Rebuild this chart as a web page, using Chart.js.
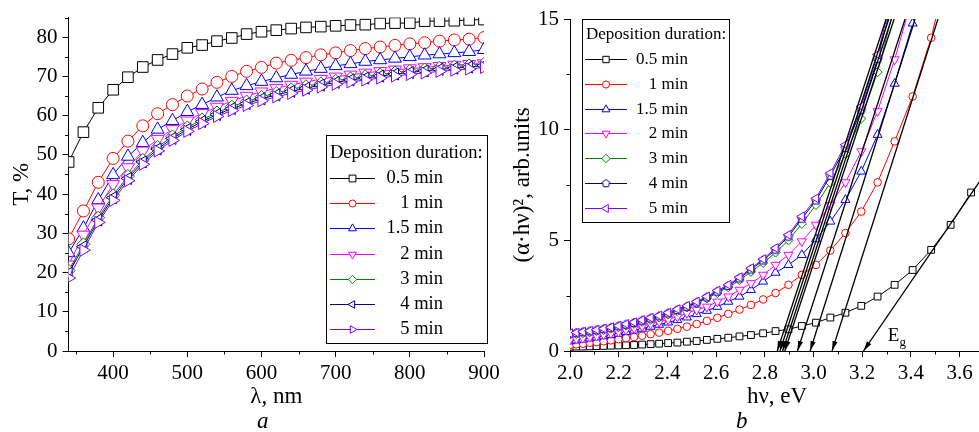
<!DOCTYPE html>
<html>
<head>
<meta charset="utf-8">
<script src="https://cdn.jsdelivr.net/npm/chart.js@4.4.1/dist/chart.umd.min.js"></script>
<style>
  html, body { margin: 0; padding: 0; background: #fff; overflow: hidden; }
  body { width: 979px; height: 432px; position: relative; }
  canvas { position: absolute; top: 0; }
  #chartA { left: 0; }
  #chartB { left: 490px; }
  .panel { position: absolute; top: 408px; font: italic 23px "Liberation Serif", serif; line-height: 26px; }
</style>
</head>
<body>
<canvas id="chartA" width="520" height="432"></canvas>
<canvas id="chartB" width="510" height="432"></canvas>
<div class="panel" style="left:257px">a</div>
<div class="panel" style="left:736px">b</div>
<script>
// * data *
const durations = ['0.5 min', '1 min', '1.5 min', '2 min', '3 min', '4 min', '5 min'];
const colors = ['#000000', '#ff0000', '#0000ff', '#ff00ff', '#008000', '#000080', '#8000ff'];

// panel a: transmittance, %
const wavelength = [340, 360, 380, 400, 420, 440, 460, 480, 500, 520, 540, 560, 580, 600, 620,
  640, 660, 680, 700, 720, 740, 760, 780, 800, 820, 840, 860, 880, 900];
const trans05 = [48.2, 55.8, 62.0, 66.6, 69.8, 72.4, 74.2, 75.7, 77.3, 78.0, 79.0, 79.8, 80.8, 81.4, 81.8,
  82.2, 82.5, 82.7, 82.9, 83.1, 83.2, 83.5, 83.6, 83.6, 84.1, 84.1, 84.2, 84.4, 84.5];
const trans1 = [28.6, 35.7, 43.0, 49.1, 53.5, 57.4, 60.5, 62.8, 65.0, 66.8, 68.5, 70.0, 71.3, 72.3, 73.4,
  74.1, 74.8, 75.5, 76.0, 76.6, 77.1, 77.5, 77.9, 78.3, 78.6, 79.0, 79.3, 79.5, 79.9];
const trans15 = [25.0, 31.3, 38.5, 44.9, 49.6, 53.1, 56.5, 58.7, 61.0, 62.8, 64.7, 66.4, 67.6, 68.7, 69.6,
  70.5, 71.3, 72.0, 72.7, 73.2, 73.8, 74.2, 74.6, 75.0, 75.4, 75.7, 76.0, 76.3, 76.8];
const trans2 = [22.0, 29.6, 36.5, 42.5, 46.8, 51.0, 54.0, 56.5, 58.7, 60.6, 62.2, 63.7, 65.0, 66.1, 67.0,
  67.8, 68.6, 69.3, 69.9, 70.4, 70.9, 71.3, 71.7, 72.0, 72.3, 72.6, 72.9, 73.1, 73.3];
const trans3 = [20.5, 27.2, 34.0, 39.7, 44.6, 48.7, 52.0, 54.7, 57.0, 59.0, 60.8, 62.3, 63.6, 64.8, 65.8,
  66.7, 67.5, 68.2, 68.9, 69.5, 70.0, 70.5, 71.0, 71.4, 71.8, 72.2, 72.5, 72.8, 73.2];
const trans4 = [19.8, 26.6, 33.4, 39.1, 44.0, 48.2, 51.5, 54.2, 56.5, 58.5, 60.3, 61.8, 63.1, 64.3, 65.3,
  66.2, 67.0, 67.8, 68.5, 69.1, 69.6, 70.1, 70.6, 71.0, 71.4, 71.8, 72.1, 72.4, 72.8];
const trans5 = [18.6, 25.7, 32.8, 38.4, 43.4, 47.6, 51.0, 53.7, 56.0, 58.0, 59.8, 61.3, 62.6, 63.8, 64.8,
  65.7, 66.5, 67.3, 68.0, 68.6, 69.1, 69.6, 70.1, 70.5, 70.9, 71.3, 71.6, 71.9, 72.3];

// panel b: (alpha*hv)^2 vs photon energy
const hv = [2.000, 2.026, 2.053, 2.081, 2.109, 2.138, 2.168, 2.199, 2.230, 2.263, 2.296, 2.331,
  2.366, 2.403, 2.441, 2.480, 2.520, 2.562, 2.605, 2.650, 2.696, 2.743, 2.793, 2.844,
  2.897, 2.952, 3.010, 3.069, 3.131, 3.196, 3.263, 3.333, 3.407, 3.483, 3.563, 3.647];
const abs05 = [0.19, 0.20, 0.20, 0.21, 0.22, 0.23, 0.24, 0.25, 0.26, 0.27, 0.29, 0.31,
  0.33, 0.36, 0.38, 0.42, 0.45, 0.50, 0.55, 0.60, 0.66, 0.72, 0.80, 0.90,
  0.98, 1.13, 1.28, 1.51, 1.73, 2.04, 2.46, 2.99, 3.66, 4.57, 5.70, 7.16];
const abs1 = [0.27, 0.30, 0.33, 0.37, 0.40, 0.44, 0.48, 0.53, 0.58, 0.63, 0.69, 0.76,
  0.83, 0.91, 1.00, 1.10, 1.22, 1.36, 1.50, 1.68, 1.87, 2.08, 2.33, 2.62,
  2.99, 3.44, 3.89, 4.54, 5.33, 6.30, 7.62, 9.47, 11.5, 14.15, 17.8, 21.5];
const abs15 = [0.44, 0.48, 0.52, 0.57, 0.62, 0.67, 0.73, 0.79, 0.86, 0.93, 1.01, 1.10,
  1.19, 1.29, 1.40, 1.52, 1.67, 1.82, 2.00, 2.23, 2.46, 2.76, 3.14, 3.54,
  3.89, 4.34, 5.05, 5.85, 6.83, 8.11, 9.77, 12.08, 14.8, 18.0, 21.5, 25.0];
const abs2 = [0.52, 0.55, 0.59, 0.63, 0.68, 0.74, 0.80, 0.87, 0.95, 1.03, 1.12, 1.22,
  1.32, 1.43, 1.55, 1.71, 1.86, 2.00, 2.23, 2.46, 2.76, 3.06, 3.44, 3.89,
  4.34, 4.95, 5.70, 6.60, 7.62, 9.02, 10.83, 13.17, 16.0, 19.5, 23.0, 27.0];
const abs3 = [0.74, 0.77, 0.81, 0.85, 0.90, 0.95, 1.01, 1.08, 1.15, 1.23, 1.32, 1.42,
  1.52, 1.65, 1.80, 1.97, 2.16, 2.38, 2.62, 2.88, 3.20, 3.58, 3.98, 4.45,
  5.00, 5.75, 6.60, 7.60, 8.90, 10.5, 12.6, 15.6, 19.0, 23.0, 27.0, 31.0];
const abs4 = [0.78, 0.81, 0.85, 0.89, 0.94, 0.99, 1.05, 1.12, 1.19, 1.27, 1.37, 1.47,
  1.57, 1.70, 1.85, 2.00, 2.19, 2.42, 2.68, 2.94, 3.28, 3.68, 4.09, 4.58,
  5.17, 5.98, 6.80, 7.92, 9.18, 10.9, 13.2, 16.2, 19.6, 23.5, 27.5, 31.5];
const abs5 = [0.80, 0.83, 0.87, 0.91, 0.96, 1.01, 1.07, 1.14, 1.22, 1.30, 1.40, 1.50,
  1.60, 1.73, 1.89, 2.04, 2.23, 2.46, 2.73, 2.99, 3.33, 3.74, 4.15, 4.65,
  5.25, 6.08, 6.90, 8.04, 9.32, 11.05, 13.4, 16.5, 20.0, 24.0, 28.0, 32.0];

// linear fits: x intercept (Eg) and the upper end of each line
const egValues = [2.851, 2.862, 2.873, 2.882, 2.934, 2.986, 3.076, 3.205];
const fitEndX = [3.298, 3.309, 3.320, 3.331, 3.376, 3.417, 3.511, 3.700];
const fitEndY = [15, 15, 15, 15, 15, 15, 15, 7.95];

// tick values
const minorA = { x: [350, 450, 550, 650, 750, 850], y: [5, 15, 25, 35, 45, 55, 65, 75, 85] };
const minorB = { x: [2.1, 2.3, 2.5, 2.7, 2.9, 3.1, 3.3, 3.5, 3.7], y: [2.5, 7.5, 12.5] };

Chart.defaults.font.family = '"Liberation Serif", "Times New Roman", serif';
Chart.defaults.color = '#000';

// pentagon marker (Chart.js has none)
function pentagon(r, color) {
    const c = document.createElement('canvas');
    const s = Math.ceil(2 * r + 3);
    c.width = s; c.height = s;
    const g = c.getContext('2d');
    g.beginPath();
    for (let k = 0; k < 5; k++) {
        const a = -Math.PI / 2 + k * 2 * Math.PI / 5;
        const px = s / 2 + r * Math.cos(a), py = s / 2 + r * Math.sin(a);
        if (k) g.lineTo(px, py); else g.moveTo(px, py);
    }
    g.closePath();
    g.fillStyle = '#fff'; g.fill();
    g.strokeStyle = color; g.lineWidth = 1; g.stroke();
    return c;
}

const stylesA = ['rect', 'circle', 'triangle', 'triangle', 'rectRot', 'triangle', 'triangle'];
const rotA = [0, 0, 0, 180, 0, 270, 90];
const radA = [7.5, 6, 7.5, 7.5, 6.5, 7, 7];
const stylesB = ['rect', 'circle', 'triangle', 'triangle', 'rectRot', pentagon(4.5, colors[5]), 'triangle'];
const rotB = [0, 0, 0, 180, 0, 0, 270];
const radB = [4.8, 3.8, 5.2, 5.2, 4.6, 4.5, 5.2];

const seriesA = [trans05, trans1, trans15, trans2, trans3, trans4, trans5];
const seriesB = [abs05, abs1, abs15, abs2, abs3, abs4, abs5];

// * legend box drawn inside the plot *
function legendBox(cfg) {
    return {
        id: 'legendBox',
        afterDatasetsDraw(chart) {
            const ctx = chart.ctx;
            ctx.save();
            ctx.fillStyle = '#fff';
            ctx.fillRect(cfg.left, cfg.top, cfg.width, cfg.height);
            ctx.strokeStyle = '#000';
            ctx.lineWidth = 1;
            ctx.strokeRect(cfg.left + 0.5, cfg.top + 0.5, cfg.width, cfg.height);
            ctx.font = cfg.fontSize + 'px ' + Chart.defaults.font.family;
            ctx.fillStyle = '#000';
            ctx.textBaseline = 'middle';
            ctx.textAlign = 'left';
            ctx.fillText('Deposition duration:', cfg.left + 4, cfg.titleY);
            durations.forEach((label, i) => {
                const y = Math.round(cfg.firstRow + i * cfg.rowStep) + 0.5;
                ctx.strokeStyle = colors[i];
                ctx.lineWidth = 1;
                ctx.beginPath();
                ctx.moveTo(cfg.lineX0, y);
                ctx.lineTo(cfg.lineX1, y);
                ctx.stroke();
                ctx.fillStyle = '#fff';
                Chart.helpers.drawPoint(ctx, {
                    pointStyle: cfg.styles[i], rotation: cfg.rot[i],
                    radius: cfg.radius[i], borderWidth: 1
                }, (cfg.lineX0 + cfg.lineX1) / 2, y);
                ctx.fillStyle = '#000';
                ctx.textAlign = 'right';
                ctx.fillText(label, cfg.textRight, y);
            });
            ctx.restore();
        }
    };
}

// * short minor ticks *
const minorTicks = {
    id: 'minorTicks',
    afterDraw(chart, args, opts) {
        const { ctx, chartArea: a, scales: { x, y } } = chart;
        ctx.save();
        ctx.strokeStyle = '#000';
        ctx.lineWidth = 1;
        ctx.beginPath();
        opts.x.forEach(v => {
            const px = Math.round(x.getPixelForValue(v)) + 0.5;
            ctx.moveTo(px, a.bottom); ctx.lineTo(px, a.bottom + 3.5);
        });
        opts.y.forEach(v => {
            const py = Math.round(y.getPixelForValue(v)) + 0.5;
            ctx.moveTo(a.left, py); ctx.lineTo(a.left - 3.5, py);
        });
        ctx.stroke();
        ctx.restore();
    }
};

// * arrow heads at Eg and the Eg label *
const egMarks = {
    id: 'egMarks',
    afterDatasetsDraw(chart) {
        const { ctx, scales: { x, y } } = chart;
        ctx.save();
        ctx.fillStyle = '#000';
        egValues.forEach((eg, i) => {
            const x0 = x.getPixelForValue(eg), y0 = y.getPixelForValue(0);
            const x1 = x.getPixelForValue(fitEndX[i]), y1 = y.getPixelForValue(fitEndY[i]);
            const len = Math.hypot(x1 - x0, y1 - y0);
            const ux = (x1 - x0) / len, uy = (y1 - y0) / len;
            const L = 10, W = 2.6;
            ctx.beginPath();
            ctx.moveTo(x0, y0);
            ctx.lineTo(x0 + ux * L - uy * W, y0 + uy * L + ux * W);
            ctx.lineTo(x0 + ux * L + uy * W, y0 + uy * L - ux * W);
            ctx.closePath();
            ctx.fill();
        });
        const ex = x.getPixelForValue(3.305), ey = y.getPixelForValue(0.45);
        ctx.textBaseline = 'alphabetic';
        ctx.font = '19px ' + Chart.defaults.font.family;
        ctx.fillText('E', ex, ey);
        const w = ctx.measureText('E').width;
        ctx.font = '13px ' + Chart.defaults.font.family;
        ctx.fillText('g', ex + w, ey + 5);
        ctx.restore();
    }
};

function axis(min, max, step, title, fit) {
    return {
        type: 'linear', min: min, max: max,
        border: { color: '#000', width: 1 },
        grid: { drawOnChartArea: false, tickLength: 6, tickColor: '#000' },
        ticks: { stepSize: step, includeBounds: false, autoSkip: false, maxRotation: 0, font: { size: 21 } },
        title: { display: true, text: title, font: { size: 23 } },
        afterFit: fit
    };
}

// * panel a *
const dataA = seriesA.map((vals, i) => ({
    label: durations[i],
    data: wavelength.map((w, k) => ({ x: w, y: vals[k] })),
    borderColor: colors[i], backgroundColor: '#fff', borderWidth: 1,
    pointStyle: stylesA[i], pointRotation: rotA[i], pointRadius: radA[i],
    pointBorderWidth: 1, order: 6 - i
}));

new Chart(document.getElementById('chartA'), {
    type: 'line',
    data: { datasets: dataA },
    options: {
        responsive: false, animation: false, events: [],
        layout: { padding: { top: 17, right: 36, left: 0, bottom: 0 } },
        plugins: { legend: { display: false }, tooltip: { enabled: false }, minorTicks: minorA },
        scales: {
            x: axis(340, 900, 100, 'λ, nm', s => { s.height = 81; s.paddingLeft = 0; s.paddingRight = 0; }),
            y: axis(0, 85, 10, 'T, %', s => { s.width = 68.6; })
        }
    },
    plugins: [minorTicks, legendBox({
        left: 326, top: 135, width: 161, height: 208, fontSize: 18.5,
        titleY: 153, firstRow: 178, rowStep: 25.2, lineX0: 330, lineX1: 375, textRight: 443,
        styles: stylesA, rot: rotA, radius: [4.8, 3.5, 4.6, 4.6, 4.2, 4.4, 4.4]
    })]
});
const ca = Chart.getChart('chartA');
ca.options.scales.x.title.padding = { top: 0, bottom: 21 };
ca.options.scales.y.title.padding = { top: 8, bottom: 0 };
ca.options.scales.x.ticks.padding = 4;
ca.options.scales.y.ticks.padding = 5;
ca.update();

// * panel b *
const dataB = seriesB.map((vals, i) => ({
    label: durations[i],
    data: hv.map((e, k) => ({ x: e, y: vals[k] })),
    borderColor: colors[i], backgroundColor: '#fff', borderWidth: 1,
    pointStyle: stylesB[i], pointRotation: rotB[i], pointRadius: radB[i],
    pointBorderWidth: 1, order: 6 - i
}));
const fitLines = egValues.map((eg, i) => ({
    label: 'fit',
    data: [{ x: eg, y: 0 }, { x: fitEndX[i], y: fitEndY[i] }],
    borderColor: '#000', borderWidth: 1.3, pointRadius: 0, order: -1
}));

new Chart(document.getElementById('chartB'), {
    type: 'line',
    data: { datasets: dataB.concat(fitLines) },
    options: {
        responsive: false, animation: false, events: [],
        layout: { padding: { top: 19, right: 16, left: 0, bottom: 0 } },
        plugins: { legend: { display: false }, tooltip: { enabled: false }, minorTicks: minorB },
        scales: {
            x: axis(2.0, 3.7, 0.2, 'hν, eV', s => { s.height = 81; s.paddingLeft = 0; s.paddingRight = 0; }),
            y: axis(0, 15, 5, '(α·hν)², arb.units', s => { s.width = 80; })
        }
    },
    plugins: [minorTicks, egMarks, legendBox({
        left: 92, top: 19, width: 147, height: 203, fontSize: 17,
        titleY: 35, firstRow: 59, rowStep: 24.8, lineX0: 95, lineX1: 137, textRight: 198,
        styles: ['rect', 'circle', 'triangle', 'triangle', 'rectRot', pentagon(4, colors[5]), 'triangle'],
        rot: rotB, radius: [4.5, 3.6, 4.6, 4.6, 4.2, 4, 4.6]
    })]
});
const cb = Chart.getChart('chartB');
cb.options.scales.x.ticks.callback = v => v.toFixed(1);
cb.options.scales.x.title.padding = { top: 0, bottom: 21 };
cb.options.scales.y.title.padding = { top: 19, bottom: 0 };
cb.options.scales.x.ticks.padding = 4;
cb.options.scales.y.ticks.padding = 5;
cb.update();
</script>
</body>
</html>
